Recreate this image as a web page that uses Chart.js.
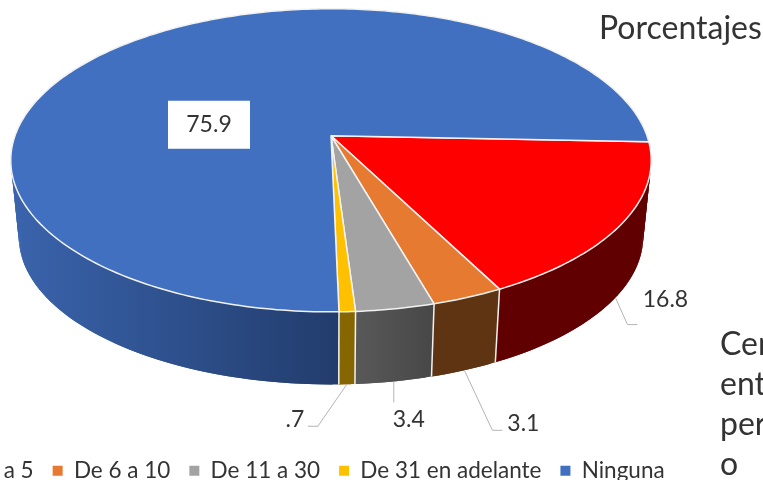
<!DOCTYPE html>
<html>
<head>
<meta charset="utf-8">
<style>
html, body { margin: 0; padding: 0; background: #fff; overflow: hidden; width: 763px; height: 480px; }
#wrap { position: absolute; left: -90px; top: -169px; width: 842px; height: 661px; }
.note { position: absolute; font-family: Lato, sans-serif; font-size: 32px; color: #333; white-space: pre; }
</style>
</head>
<body>
<div id="wrap"><canvas id="pie"></canvas></div>
<div class="note" style="left:599px;top:7px">Porcentajes</div>
<div class="note" style="left:720px;top:323px;line-height:40px">Cen
ent
per
o</div>
<script src="https://cdn.jsdelivr.net/npm/chart.js@4"></script>
<script>
const categories = ['De 1 a 5', 'De 6 a 10', 'De 11 a 30', 'De 31 en adelante', 'Ninguna'];
const percentages = [16.8, 3.1, 3.4, 0.7, 75.9];
const valueLabels = ['16.8', '3.1', '3.4', '.7', '75.9'];

const topColors = ['#ff0000', '#e67a30', '#a3a3a3', '#ffc000', '#4070bf'];
const sideLeft = ['#600000', '#5f3413', '#595959', '#866600', '#3a64ad'];
const sideRight = ['#600000', '#5f3413', '#474747', '#866600', '#223c6c'];

// perspective of the disc and its lower rim
const tilt = 0.467, nearGrow = 0.162, depth = 77, lowerScale = 0.975;
// leader elbow and label offsets from the lower rim, per slice
const elbows = [[12, 27], [28, 60], [0, 21], [-29, 42]];
const elbowEnds = [[22, 27], [38, 60], [0, 21], [-39, 42]];
const labelOffsets = [[50, 2], [59, 53], [15, 38], [-52, 35]];
const boxOffset = [-122, -11];

function project(arc, angle, lower) {
    const u = Math.cos(angle), v = Math.sin(angle);
    const w = 1 - nearGrow * v;
    const scale = lower ? lowerScale : 1;
    return {
        x: arc.x + arc.outerRadius * u / w * scale,
        y: arc.y + arc.outerRadius * tilt * v / w * scale + (lower ? depth : 0)
    };
}

function rimPoints(arc, lower) {
    const pts = [];
    const steps = Math.max(4, Math.ceil((arc.endAngle - arc.startAngle) * 60));
    for (let i = 0; i <= steps; i++) {
        pts.push(project(arc, arc.startAngle + (arc.endAngle - arc.startAngle) * i / steps, lower));
    }
    return pts;
}

const disc3d = {
    id: 'disc3d',
    beforeDatasetDraw(chart) {
        const ctx = chart.ctx;
        const arcs = chart.getDatasetMeta(0).data;
        ctx.save();
        ctx.lineJoin = 'round';

        // side wall, overlapping quads so no seams show; blue first so red sits over its end
        for (let i = arcs.length - 1; i >= 0; i--) {
            const arc = arcs[i];
            const upper = rimPoints(arc, false), lower = rimPoints(arc, true);
            const xs = upper.concat(lower).map(p => p.x);
            // the gradient runs to where the slice starts on the front of the wall
            const grad = ctx.createLinearGradient(Math.min(...xs), 0, upper[0].x, 0);
            grad.addColorStop(0, sideLeft[i]);
            grad.addColorStop(1, sideRight[i]);
            ctx.fillStyle = grad;
            for (let k = 0; k < upper.length - 1; k++) {
                const n = Math.min(k + 2, upper.length - 1);
                ctx.beginPath();
                ctx.moveTo(upper[k].x, upper[k].y);
                ctx.lineTo(upper[n].x, upper[n].y);
                ctx.lineTo(lower[n].x, lower[n].y);
                ctx.lineTo(lower[k].x, lower[k].y);
                ctx.closePath();
                ctx.fill();
            }
        }

        // white seams on the front of the wall
        ctx.strokeStyle = '#f2f2f2';
        ctx.lineWidth = 1.5;
        arcs.forEach(arc => {
            if (Math.sin(arc.startAngle) < 0.5) return;
            const a = project(arc, arc.startAngle, false), b = project(arc, arc.startAngle, true);
            ctx.beginPath();
            ctx.moveTo(a.x, a.y);
            ctx.lineTo(b.x, b.y);
            ctx.stroke();
        });

        // top face
        arcs.forEach((arc, i) => {
            ctx.beginPath();
            ctx.moveTo(arc.x, arc.y);
            rimPoints(arc, false).forEach(p => ctx.lineTo(p.x, p.y));
            ctx.closePath();
            ctx.fillStyle = topColors[i];
            ctx.fill();
            ctx.stroke();
        });

        // leaders and value labels
        ctx.font = '23px Lato, sans-serif';
        ctx.textAlign = 'center';
        ctx.textBaseline = 'middle';
        arcs.forEach((arc, i) => {
            if (i === arcs.length - 1) {
                const bx = arc.x + boxOffset[0], by = arc.y + boxOffset[1];
                ctx.fillStyle = '#fff';
                ctx.fillRect(bx - 41, by - 24, 82, 48);
                ctx.fillStyle = '#333';
                ctx.fillText(valueLabels[i], bx, by);
                return;
            }
            const start = project(arc, (arc.startAngle + arc.endAngle) / 2, true);
            ctx.strokeStyle = '#b3b3b3';
            ctx.lineWidth = 1;
            ctx.beginPath();
            ctx.moveTo(start.x, start.y);
            ctx.lineTo(start.x + elbows[i][0], start.y + elbows[i][1]);
            ctx.lineTo(start.x + elbowEnds[i][0], start.y + elbowEnds[i][1]);
            ctx.stroke();
            ctx.fillStyle = '#333';
            ctx.fillText(valueLabels[i], start.x + labelOffsets[i][0], start.y + labelOffsets[i][1]);
        });
        ctx.restore();
        return false;
    }
};

new Chart(document.getElementById('pie'), {
    type: 'pie',
    data: {
        labels: categories,
        datasets: [{ data: percentages, backgroundColor: topColors, borderWidth: 0 }]
    },
    options: {
        responsive: true,
        maintainAspectRatio: false,
        animation: false,
        radius: 316,
        rotation: 92.3,
        plugins: {
            tooltip: { enabled: false },
            legend: {
                position: 'bottom',
                align: 'start',
                labels: {
                    color: '#333',
                    boxWidth: 10,
                    boxHeight: 10,
                    padding: 19,
                    font: { family: 'Lato, sans-serif', size: 22.5 }
                }
            }
        }
    },
    plugins: [disc3d]
});
</script>
</body>
</html>
